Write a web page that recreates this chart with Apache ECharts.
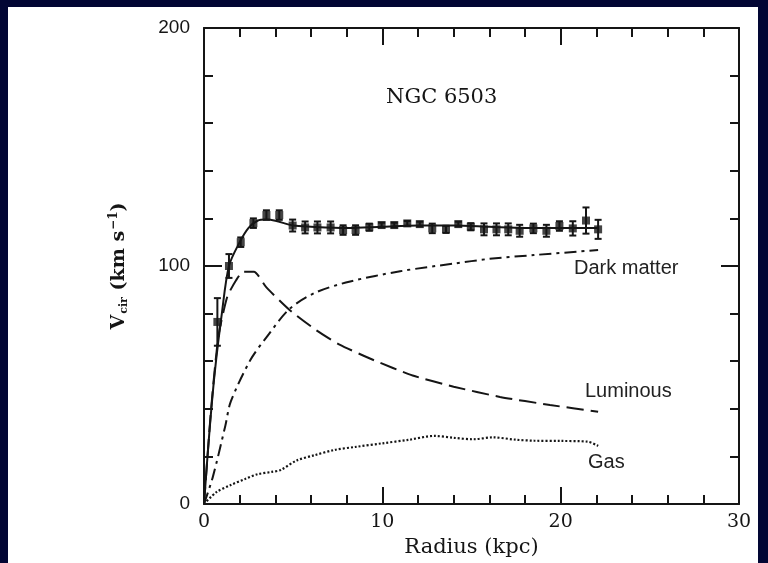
<!DOCTYPE html>
<html><head><meta charset="utf-8">
<script src="https://cdn.jsdelivr.net/npm/echarts@6/dist/echarts.min.js"></script>
<style>
html,body{margin:0;padding:0;background:#020634;width:768px;height:563px;overflow:hidden;}
#panel{position:absolute;left:8px;top:7px;width:750px;height:556px;background:#fff;}
#chart{position:absolute;left:0;top:0;width:768px;height:563px;}
</style></head><body>
<div id="panel"></div><div id="chart"></div>
<script>
// Observed rotation curve (kpc, km/s, error)
const obsR = [0.75,1.4,2.06,2.77,3.5,4.22,4.97,5.67,6.36,7.1,7.8,8.5,9.27,9.96,10.67,11.4,12.1,12.8,13.57,14.26,14.96,15.7,16.4,17.06,17.7,18.47,19.2,19.93,20.68,21.42,22.1];
const obsV = [76.5,100,110,118,121.4,121.4,117,116.2,116.2,116.2,115.1,115.1,116.3,117.2,117.2,117.9,117.6,115.8,115.4,117.6,116.5,115.4,115.4,115.4,114.8,115.8,114.8,116.8,115.8,119.1,115.4];
const obsErr = [10,5,2,2,2,2,2.5,2.5,2.5,2.5,2,2,1.5,1,1,1,1,2,1.5,1,1.5,2.5,2.5,2.5,2.5,2,2.5,2,3,5.5,4];
// Total model fit
const totR = [0,0.3,0.6,1.0,1.4,2.0,2.5,3.0,3.5,4.0,5.0,6,8,10,12,14,16,18,20,22.1];
const totV = [0,30,55,80,100,110,116,119,119.5,119,117,116.5,116,116.5,117,117,116.5,116,116,116];
// Luminous (disk) component
const lumR = [0,0.4,0.8,1.3,1.8,2.2,2.8,3.5,4.8,6.3,7.6,9.5,11.7,14,16.6,19.4,22.1];
const lumV = [0,40,70,87,94,97.6,97.6,91,81.5,73,67,60.5,54,49.3,45,41.6,38.8];
// Dark matter halo component
const dmR = [0,0.5,1.2,1.5,2.6,3.5,4.8,6.3,8.2,11,14,16,18.5,22.1];
const dmV = [0,11.5,33,43,60.5,70,82,89,93.5,97.8,101,103,104.6,106.7];
// Gas component
const gasR = [0,0.7,1.5,2.3,3,3.8,4.3,5.2,6.2,7.3,8.5,10,11.5,12.9,14,15.1,16.2,17.5,18.5,20,21.5,22.1];
const gasV = [0,5,8,10.5,12.5,13.5,14.3,18.3,20.5,22.7,24,25.5,27,28.6,27.8,27.2,28,27,26.6,26.5,26.2,24.4];
// Axis ticks
const xTicks = [0,10,20,30];
const yTicks = [0,100,200];
const titleText = 'NGC 6503';
const compLabels = ['Dark matter','Luminous','Gas'];

const zip = (a,b) => a.map((v,i)=>[v,b[i]]);
const ink = '#151515';
const chart = echarts.init(document.getElementById('chart'), null, {renderer:'canvas'});

function axisX(pos, showLabel){
  return {
    type:'value', position:pos, min:xTicks[0], max:xTicks[xTicks.length-1], interval:xTicks[1]-xTicks[0],
    axisLine:{show:true,onZero:false,lineStyle:{color:ink,width:2}},
    axisTick:{show:true,inside:true,length:17,lineStyle:{color:ink,width:2}},
    minorTick:{show:true,splitNumber:5,length:9,lineStyle:{color:ink,width:2}},
    splitLine:{show:false}, minorSplitLine:{show:false},
    axisLabel:{show:showLabel,color:ink,fontFamily:'DejaVu Serif',fontSize:19,margin:9},
    name: showLabel ? 'Radius (kpc)' : '', nameLocation:'middle', nameGap:33,
    nameTextStyle:{color:ink,fontFamily:'DejaVu Serif',fontSize:21}
  };
}
function axisY(pos, showLabel){
  return {
    type:'value', position:pos, min:yTicks[0], max:yTicks[yTicks.length-1], interval:yTicks[1]-yTicks[0],
    axisLine:{show:true,onZero:false,lineStyle:{color:ink,width:2}},
    axisTick:{show:true,inside:true,length:18,lineStyle:{color:ink,width:2}},
    minorTick:{show:true,splitNumber:5,length:9,lineStyle:{color:ink,width:2}},
    splitLine:{show:false}, minorSplitLine:{show:false},
    axisLabel:{show:showLabel,color:ink,fontFamily:'Liberation Sans',fontSize:19,margin:14},
    name: showLabel ? '{b|V}{s|cir}{b| (km s}{p|−1}{b|)}' : '', nameLocation:'middle', nameGap:74,
    nameTextStyle:{color:ink,rich:{
      b:{fontFamily:'DejaVu Serif',fontWeight:'bold',fontSize:19,color:ink},
      s:{fontFamily:'DejaVu Serif',fontWeight:'bold',fontSize:11,color:ink,verticalAlign:'bottom',padding:[10,0,0,1]},
      p:{fontFamily:'DejaVu Serif',fontWeight:'bold',fontSize:12,color:ink,verticalAlign:'top',padding:[0,0,10,1]}
    }}
  };
}

const option = {
  animation:false,
  grid:{left:204,right:29,top:28,bottom:59,containLabel:false},
  xAxis:[axisX('bottom',true), axisX('top',false)],
  yAxis:[axisY('left',true), axisY('right',false)],
  graphic:[
    {type:'text',left:386,top:87,style:{text:titleText,fill:ink,font:'21px "DejaVu Serif"'}},
    {type:'text',left:574,top:258,style:{text:compLabels[0],fill:'#222',font:'20px "Liberation Sans"'}},
    {type:'text',left:585,top:381,style:{text:compLabels[1],fill:'#222',font:'20px "Liberation Sans"'}},
    {type:'text',left:588,top:452,style:{text:compLabels[2],fill:'#222',font:'20px "Liberation Sans"'}}
  ],
  series:[
    {type:'line',name:'Gas',data:zip(gasR,gasV),showSymbol:false,smooth:0.3,
     lineStyle:{color:ink,width:2.2,type:[2,2]}},
    {type:'line',name:'Dark matter',data:zip(dmR,dmV),showSymbol:false,smooth:0.3,
     lineStyle:{color:ink,width:2,type:[12,5,3,5]}},
    {type:'line',name:'Luminous',data:zip(lumR,lumV),showSymbol:false,smooth:0.2,
     lineStyle:{color:ink,width:2,type:[17,7]}},
    {type:'line',name:'Total',data:zip(totR,totV),showSymbol:false,smooth:0.3,
     lineStyle:{color:ink,width:2}},
    {type:'custom',name:'err',data:obsR.map((r,i)=>[r,obsV[i],obsErr[i]]),encode:{x:0,y:1},
     renderItem:function(params,api){
       const x=api.value(0), y=api.value(1), e=api.value(2);
       const t=api.coord([x,y+e]), b=api.coord([x,y-e]);
       const cw=3.5, st={stroke:ink,lineWidth:2};
       return {type:'group',children:[
         {type:'line',shape:{x1:t[0],y1:t[1],x2:b[0],y2:b[1]},style:st},
         {type:'line',shape:{x1:t[0]-cw,y1:t[1],x2:t[0]+cw,y2:t[1]},style:st},
         {type:'line',shape:{x1:b[0]-cw,y1:b[1],x2:b[0]+cw,y2:b[1]},style:st}
       ]};
     }},
    {type:'scatter',name:'Observed',data:zip(obsR,obsV),symbol:'rect',symbolSize:8,
     itemStyle:{color:ink}}
  ]
};
chart.setOption(option);
</script>
</body></html>
